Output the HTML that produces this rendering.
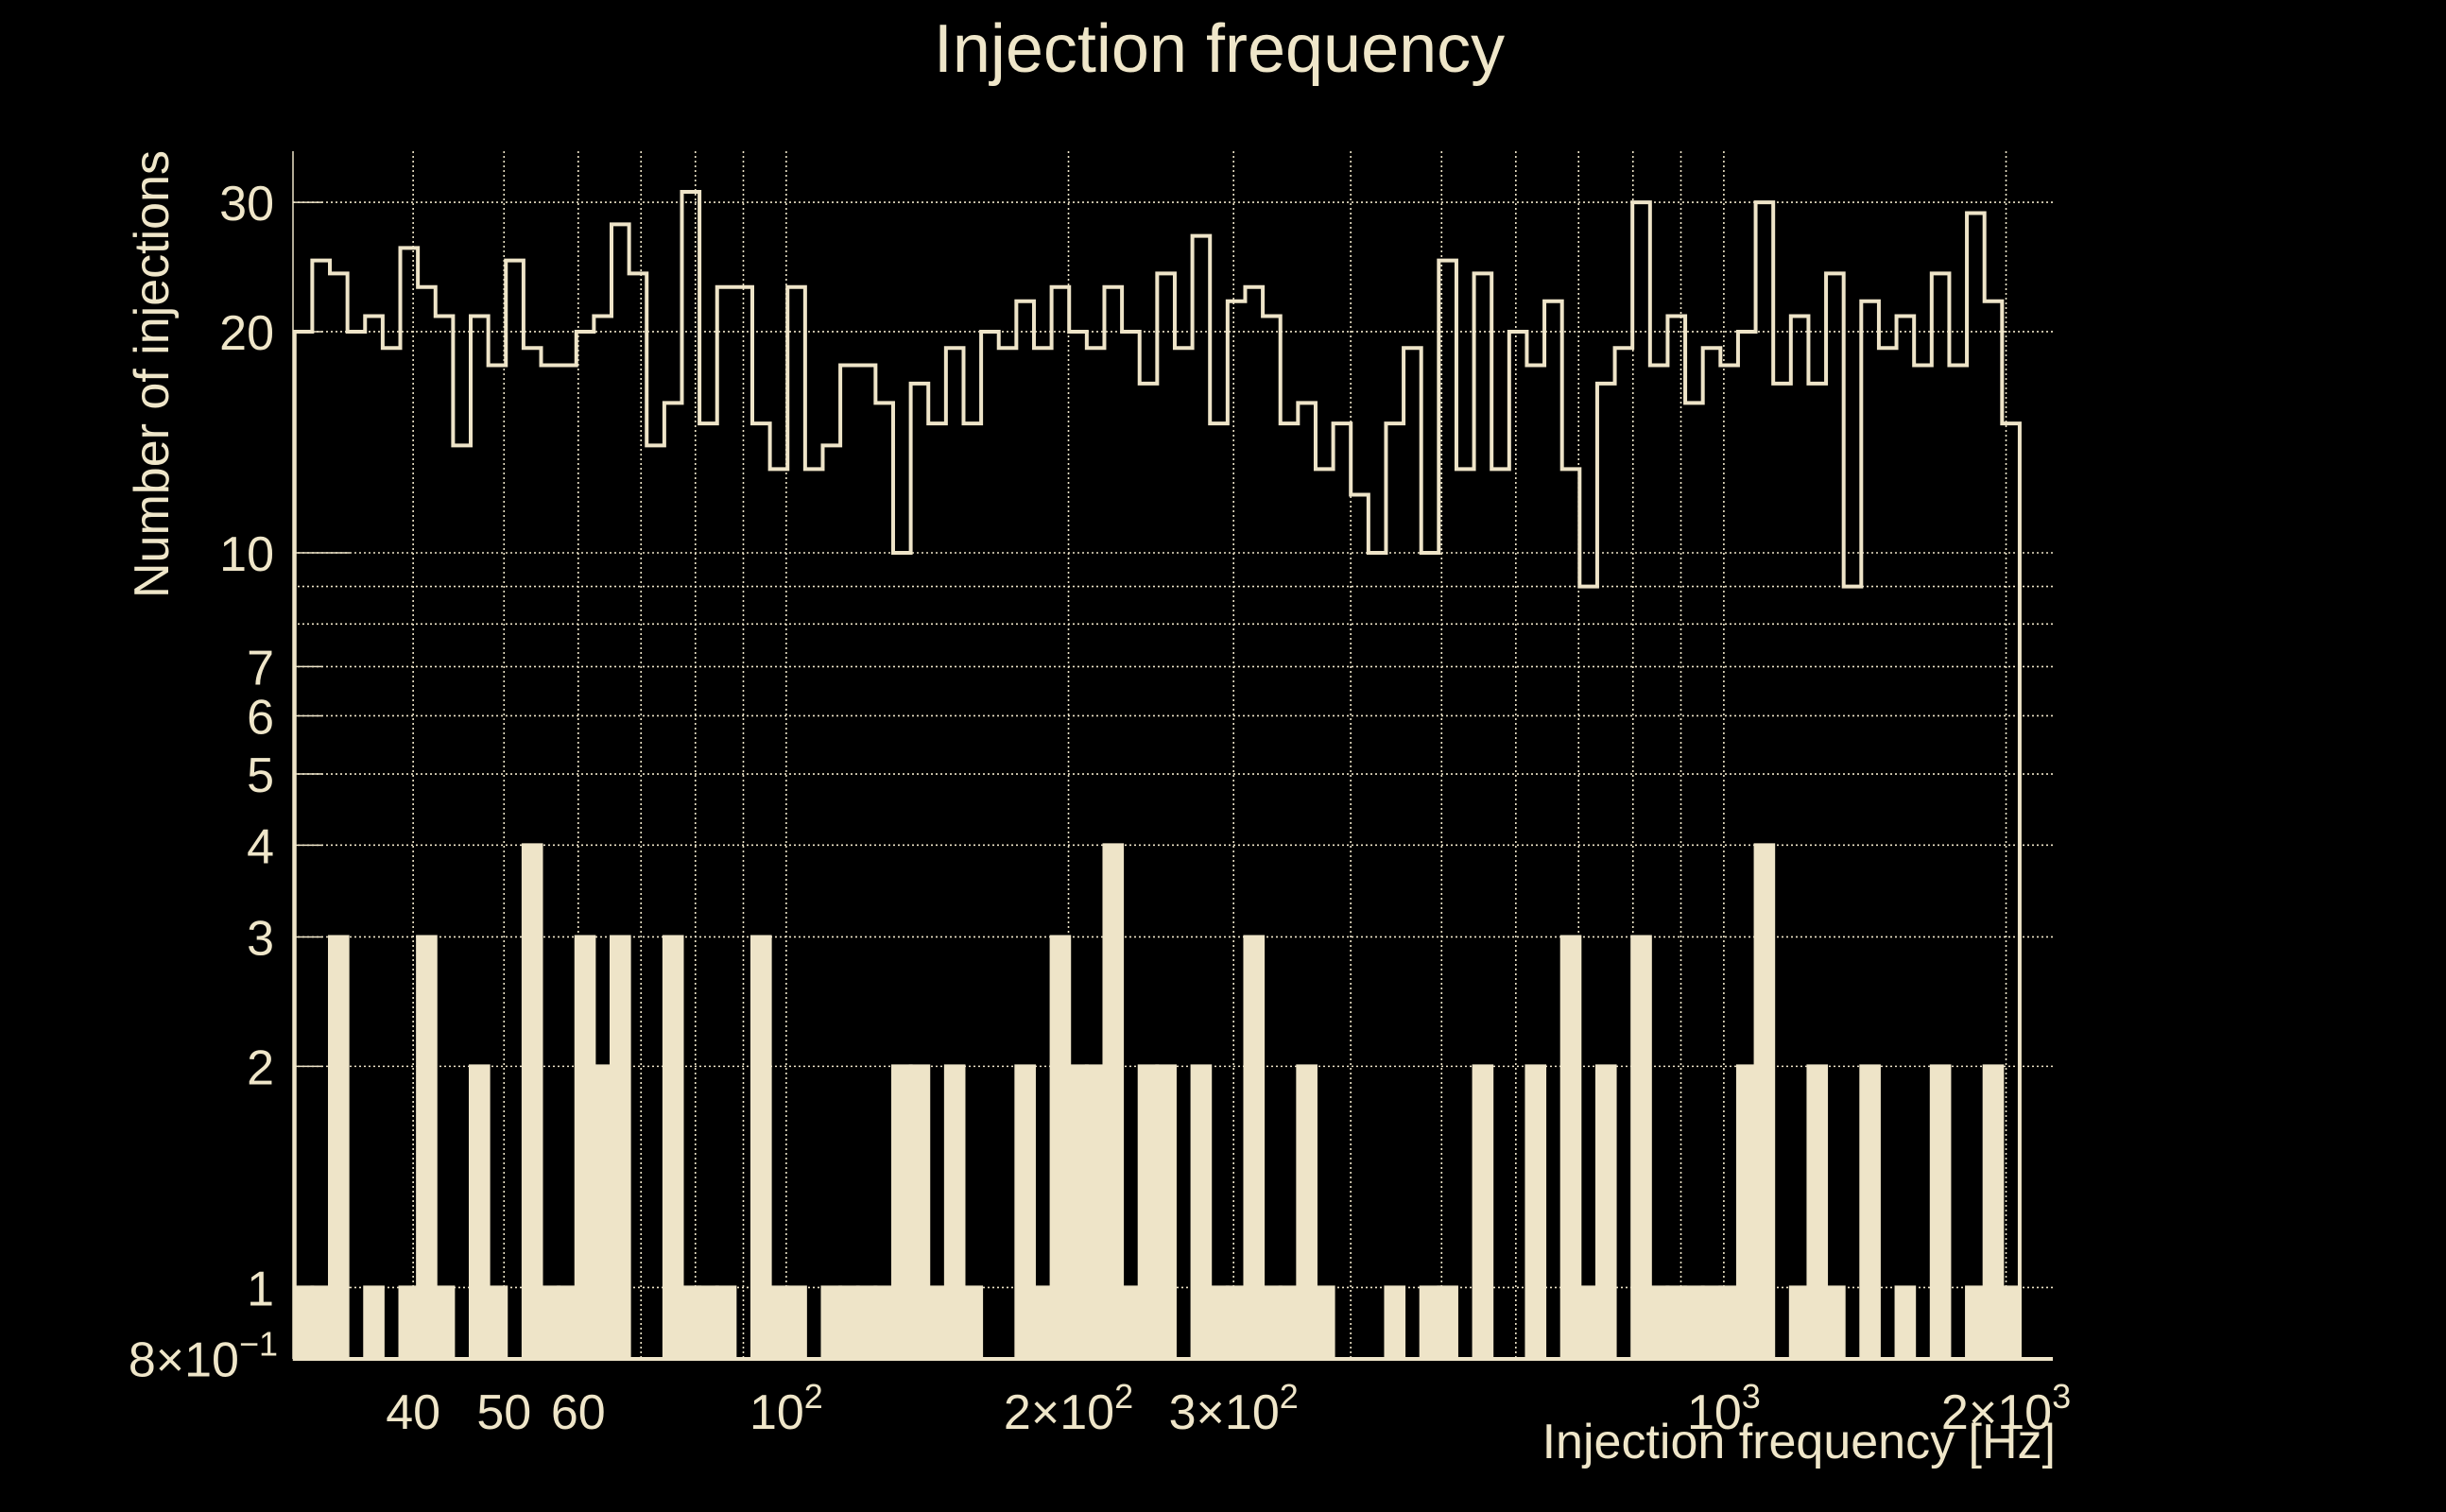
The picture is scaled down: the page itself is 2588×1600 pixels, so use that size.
<!DOCTYPE html>
<html><head><meta charset="utf-8"><title>Injection frequency</title>
<style>
html,body{margin:0;padding:0;background:#000;}
svg{display:block;}
text{font-family:"Liberation Sans",Arial,sans-serif;fill:#EFE6C9;}
</style></head>
<body>
<svg id="chart" width="2588" height="1600" viewBox="0 0 2588 1600" xmlns="http://www.w3.org/2000/svg">
<rect x="0" y="0" width="2588" height="1600" fill="#000"/>
<text x="1290" y="76" font-size="72" text-anchor="middle">Injection frequency</text>
<text transform="translate(178,396) rotate(-90)" font-size="52" text-anchor="middle">Number of injections</text>
<text x="2175" y="1543" font-size="52" text-anchor="end">Injection frequency [Hz]</text>
<g id="grid"></g>
<g id="bars"></g>
<g id="step"></g>
<g id="axes"></g>
</svg>
<script>
// ---- data ----
const fMin = 29.9;
const fMax = 2068;
const totalCounts = [20,25,24,20,21,19,26,23,21,14,21,18,25,19,18,18,20,21,28,24,14,16,31,15,23,
  23,15,13,23,13,14,18,18,16,10,17,15,19,15,20,19,22,19,23,20,19,23,20,17,24,
  19,27,15,22,23,21,15,16,13,15,12,10,15,19,10,25,13,24,13,20,18,22,13,9,17,
  19,30,18,21,16,19,18,20,30,17,21,17,24,9,22,19,21,18,24,18,29,22,15];
const selectedCounts = [1,1,3,0,1,0,1,3,1,0,2,1,0,4,1,1,3,2,3,0,0,3,1,1,1,
  0,3,1,1,0,1,1,1,1,2,2,1,2,1,0,0,2,1,3,2,2,4,1,2,2,
  0,2,1,1,3,1,1,2,1,0,0,0,1,0,1,1,0,2,0,0,2,0,3,1,2,
  0,3,1,1,1,1,1,2,4,0,1,2,1,0,2,0,1,0,2,0,1,2,1];
const yTickValues = [0.8,1,2,3,4,5,6,7,10,20,30];
const yTickLabels = ["8×10","1","2","3","4","5","6","7","10","20","30"];
const yGridValues = [0.8,1,2,3,4,5,6,7,8,9,10,20,30];
const xGridValues = [40,50,60,70,80,90,100,200,300,400,500,600,700,800,900,1000,2000];
const xTickValues = [40,50,60,100,200,300,1000,2000];
const xTickMain = ["40","50","60","10","2×10","3×10","10","2×10"];
const xTickExp = ["","","","2","2","2","3","3"];

// ---- axes functions ----
const C = "#EEE4C8";
const X0 = 310, X1 = 2172, Y0 = 160, YB = 1438;
function xs(f){ return 831.9 + 992*Math.log10(f/100); }
function ys(v){ return 585 - 777.4*Math.log10(v/10); }
const NS = "http://www.w3.org/2000/svg";
function mk(tag, attrs, parent){
  const e = document.createElementNS(NS, tag);
  for (const k in attrs) e.setAttribute(k, attrs[k]);
  parent.appendChild(e);
  return e;
}
const grid = document.getElementById('grid');
const barsG = document.getElementById('bars');
const stepG = document.getElementById('step');
const axes = document.getElementById('axes');

yGridValues.forEach(v=>{
  const l = mk('line',{x1:X0,x2:X1,y1:ys(v),y2:ys(v),stroke:C,'stroke-width':1.6,'stroke-dasharray':'2 3'},grid);
  
  
});
xGridValues.forEach(f=>{
  const l = mk('line',{x1:xs(f),x2:xs(f),y1:Y0,y2:YB,stroke:C,'stroke-width':1.6,'stroke-dasharray':'2 3'},grid);
  
  
});

// bin edges (log-uniform)
const N = totalCounts.length;
const edges = [];
for (let i=0;i<=N;i++) edges.push(fMin*Math.pow(fMax/fMin, i/N));

// bars
selectedCounts.forEach((c,i)=>{
  if (c<=0) return;
  const xa = xs(edges[i]), xb = xs(edges[i+1]);
  const r = mk('rect',{x:xa,y:ys(c),width:xb-xa,height:YB-ys(c),fill:C,stroke:C,'stroke-width':4},barsG);
  
  
});

// step line
let d = 'M'+xs(edges[0])+','+YB;
totalCounts.forEach((c,i)=>{
  d += ' L'+xs(edges[i])+','+ys(c)+' L'+xs(edges[i+1])+','+ys(c);
});
d += ' L'+xs(edges[N])+','+YB;
const p = mk('path',{d:d,fill:'none',stroke:C,'stroke-width':4,'stroke-linejoin':'miter'},stepG);



// axes lines
const la = mk('line',{x1:X0,x2:X0,y1:Y0,y2:YB,stroke:C,'stroke-width':1.5},axes);


const ba = mk('line',{x1:X0,x2:X1,y1:YB,y2:YB,stroke:C,'stroke-width':4},axes);



// y ticks
yTickValues.forEach((v,i)=>{
  const tk = mk('line',{x1:X0,x2:X0+(v===10||v===1?60:31),y1:ys(v),y2:ys(v),stroke:C,'stroke-width':1.5},axes);
  
  
  const isSci = v===0.8;
  const t = mk('text',{x:isSci?294:290,y:ys(v)+19,'font-size':52,'text-anchor':'end'},axes);
  
  
  t.textContent = yTickLabels[i];
  if (isSci){
    const s = mk('tspan',{dy:-22,'font-size':36},t);
    s.textContent = '−1';
  }
});

// x ticks
xTickValues.forEach((f,i)=>{
  const t = mk('text',{x:xs(f),y:1512,'font-size':52,'text-anchor':'middle'},axes);
  
  
  const a = mk('tspan',{},t);
  a.textContent = xTickMain[i];
  if (xTickExp[i]){
    const s = mk('tspan',{dy:-22,'font-size':36},t);
    s.textContent = xTickExp[i];
  }
});
</script>
</body></html>
